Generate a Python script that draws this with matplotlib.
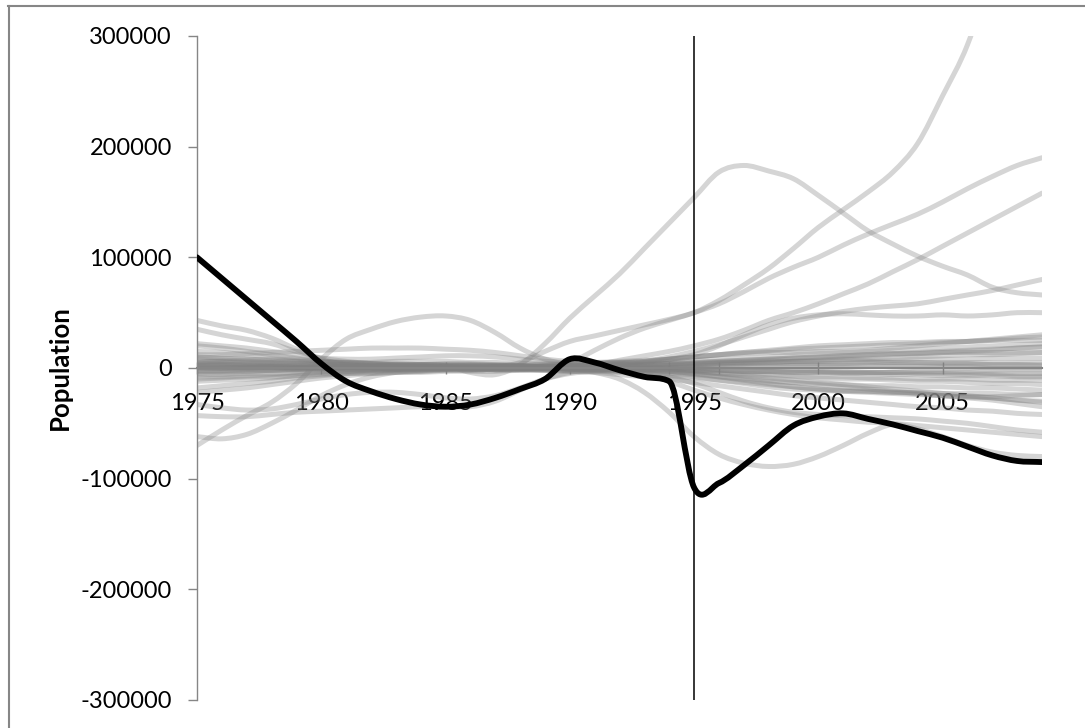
import matplotlib
matplotlib.use("Agg")
import matplotlib.pyplot as plt
from matplotlib.path import Path
from matplotlib.patches import PathPatch
from matplotlib.lines import Line2D

plt.rcParams["font.family"] = ["Lato", "DejaVu Sans"]
plt.rcParams["axes.unicode_minus"] = False

# ---- data (values in thousands of people) ----
years = list(range(1975, 2010))
tick_years = [1975, 1980, 1985, 1990, 1995, 2000, 2005]
extra_tick_years = [1994, 1996]
y_ticks = [-300000, -200000, -100000, 0, 100000, 200000, 300000]
y_tick_labels = ["-300000", "-200000", "-100000", "0", "100000", "200000", "300000"]
marker_year = 1995

# highlighted region
black_k = [100, 81, 62, 43, 24, 4, -12, -21, -28, -33, -35, -33, -27, -19, -10,
           8, 5, -2, -8, -12, -108, -104, -88, -70, -52, -44, -41, -46, -51, -57,
           -63, -71, -79, -84, -85]

# all other regions (grey)
l1 = [5, 6, 6, 5, 4, 3, 3, 2, 2, 1, 1, 0, 1, 5, 15, 24, 29, 34, 39, 44,
      50, 61, 75, 90, 108, 127, 143, 159, 177, 203, 246, 292, 360, 430, 500]
l2 = [10, 9, 8, 8, 7, 6, 5, 4, 4, 3, 2, -4, -6, 3, 22, 45, 65, 85, 108, 131,
      154, 177, 183, 178, 171, 156, 140, 124, 112, 101, 92, 84, 73, 68, 66]
l3 = [3, 3, 2, 2, 1, 1, 0, 0, -1, -1, 0, 0, 1, 1, 2, 5, 16, 27, 36, 43,
      50, 58, 69, 81, 91, 100, 111, 121, 130, 139, 150, 162, 173, 183, 190]
l4 = [-2, -2, -1, -1, 0, 0, 1, 1, 1, 0, 0, -1, -1, 0, 0, 1, 3, 7, 11, 15,
      20, 26, 34, 43, 50, 58, 67, 76, 87, 98, 110, 122, 134, 146, 158]
l5 = [4, 4, 3, 3, 2, 2, 2, 1, 1, 1, 0, 0, 0, 1, 1, 2, 3, 4, 6, 10,
      15, 21, 28, 35, 42, 47, 51, 54, 56, 58, 62, 66, 70, 75, 80]
l6 = [-3, -3, -2, -2, -1, -1, 0, 0, 1, 1, 1, 0, 0, 0, 1, 1, 2, 3, 5, 8,
      12, 20, 30, 39, 45, 48, 49, 48, 47, 47, 48, 47, 48, 50, 50]
d1 = [2, 2, 1, 1, 0, 0, -1, -1, 0, 0, 1, 1, 0, 0, -1, -1, -4, -10, -22, -40,
      -62, -78, -86, -89, -87, -80, -70, -59, -51, -55, -62, -70, -76, -79, -80]
d2 = [0, 0, 1, 1, 0, 0, -1, -1, -1, 0, 0, 1, 1, 0, 0, -1, -1, -2, -5, -12,
      -20, -27, -33, -38, -42, -45, -47, -49, -50, -52, -54, -56, -58, -60, -62]
d3 = [1, 1, 0, 0, -1, -1, 0, 0, 1, 1, 0, 0, -1, -1, 0, 0, -1, -2, -4, -8,
      -14, -22, -30, -36, -40, -42, -43, -44, -45, -46, -48, -50, -53, -56, -58]
h1 = [-70, -56, -43, -31, -14, 8, 26, 35, 42, 46, 47, 43, 32, 18, 8, 3, 2, 1, 1, 0,
      0, -1, -1, -2, -2, -3, -3, -4, -4, -5, -5, -6, -6, -7, -7]
a1 = [-62, -64, -60, -50, -38, -25, -15, -8, -4, -2, -1, 0, 0, 1, 1, 2, 2, 3, 3, 4,
      5, 6, 7, 8, 9, 10, 11, 12, 13, 14, 15, 16, 17, 18, 19]
b1 = [-43, -44, -44, -42, -40, -39, -38, -37, -36, -35, -35, -35, -30, -20, -10, -4,
      -2, -1, -1, -2, -3, -5, -7, -9, -11, -13, -15, -17, -19, -21, -23, -25, -27, -29, -31]
b2 = [-33, -36, -38, -37, -33, -28, -24, -22, -22, -24, -27, -28, -25, -18, -10, -5,
      -3, -2, -2, -3, -5, -8, -11, -14, -17, -19, -21, -22, -23, -24, -25, -26, -26, -25, -24]
c1 = [43, 38, 34, 27, 17, 8, 3, 1, 0, 0, 1, 1, 2, 2, 3, 3, 4, 5, 6, 8,
      10, 12, 13, 14, 14, 15, 15, 16, 18, 20, 22, 24, 26, 28, 30]
c2 = [35, 30, 26, 22, 15, 9, 6, 4, 3, 3, 4, 4, 3, 2, 1, 0, 0, -1, -2, -3,
      -5, -7, -9, -11, -13, -15, -17, -19, -21, -23, -25, -27, -29, -32, -35]
c3 = [22, 20, 18, 15, 12, 9, 8, 8, 9, 10, 11, 11, 10, 8, 6, 5, 5, 6, 7, 8,
      10, 12, 14, 16, 18, 20, 21, 22, 23, 23, 24, 24, 25, 25, 25]
c4 = [12, 12, 13, 14, 15, 16, 17, 18, 18, 18, 17, 16, 14, 11, 8, 6, 5, 4, 4, 4,
      5, 6, 7, 8, 9, 10, 11, 12, 13, 13, 14, 14, 14, 14, 14]
n1 = [8, 7, 7, 6, 6, 5, 5, 5, 6, 6, 6, 5, 5, 4, 4, 4, 4, 5, 5, 6,
      7, 8, 9, 10, 12, 13, 14, 15, 16, 17, 18, 19, 20, 21, 22]
n2 = [-5, -4, -3, -2, -1, 0, 1, 2, 2, 3, 3, 3, 2, 2, 1, 1, 1, 2, 2, 3,
      4, 5, 6, 7, 8, 9, 10, 11, 12, 13, 14, 15, 16, 18, 19]
n3 = [6, 6, 5, 5, 4, 4, 3, 3, 3, 2, 2, 2, 2, 2, 2, 2, 3, 3, 3, 4,
      4, 5, 5, 6, 6, 6, 7, 7, 7, 8, 8, 8, 9, 9, 9]
n4 = [-8, -8, -7, -6, -5, -4, -3, -2, -1, 0, 0, 0, 1, 1, 1, 2, 2, 2, 3, 3,
      3, 4, 4, 4, 4, 4, 4, 5, 5, 5, 5, 5, 5, 5, 5]
n5 = [15, 14, 12, 10, 8, 6, 5, 4, 3, 3, 2, 2, 2, 1, 1, 1, 1, 1, 1, 2,
      2, 3, 4, 5, 6, 6, 6, 6, 5, 5, 4, 4, 3, 3, 2]
n6 = [-12, -11, -10, -9, -7, -5, -4, -3, -2, -2, -1, -1, -1, 0, 0, 0, 0, 0, 0, 0,
      1, 1, 2, 2, 2, 2, 2, 2, 1, 1, 1, 1, 0, 0, 0]
n7 = [3, 3, 3, 2, 2, 2, 1, 1, 1, 1, 0, 0, 0, -1, -1, -1, -1, -1, -1, -1,
      -2, -2, -3, -3, -4, -4, -4, -4, -4, -3, -3, -3, -2, -2, -2]
n8 = [-18, -16, -14, -12, -9, -7, -5, -4, -3, -3, -2, -2, -1, -1, -1, 0, 0, 0, -1, -1,
      -2, -2, -3, -3, -3, -3, -4, -4, -4, -4, -4, -4, -5, -5, -5]
n9 = [10, 9, 8, 7, 6, 5, 4, 4, 3, 3, 3, 2, 2, 2, 1, 1, 0, 0, -1, -2,
      -3, -4, -5, -6, -7, -8, -8, -9, -9, -10, -10, -10, -11, -11, -11]
n10 = [-3, -3, -3, -2, -2, -2, -2, -1, -1, -1, -1, -1, -1, -1, -1, -2, -2, -3, -4, -5,
       -6, -8, -10, -12, -13, -14, -15, -16, -16, -17, -17, -18, -18, -19, -20]
n11 = [5, 5, 4, 4, 3, 3, 3, 2, 2, 2, 1, 1, 1, 0, 0, -1, -2, -3, -4, -6,
       -8, -11, -14, -17, -19, -20, -21, -21, -22, -22, -23, -23, -23, -24, -24]
n12 = [0, 0, 0, 0, 0, 1, 1, 1, 0, 0, 0, 0, -1, -1, -2, -3, -4, -6, -8, -10,
       -13, -16, -19, -22, -25, -27, -29, -31, -33, -35, -36, -38, -39, -41, -42]
n13 = [-22, -20, -18, -15, -12, -9, -7, -5, -4, -3, -2, -2, -1, -1, 0, 0, 1, 1, 2, 2,
       3, 4, 5, 5, 6, 7, 8, 8, 9, 10, 11, 12, 12, 13, 14]
n14 = [-6, -6, -5, -5, -4, -3, -3, -2, -2, -1, -1, -1, 0, 0, 0, 0, -1, -1, -2, -3,
       -4, -5, -6, -7, -8, -9, -10, -10, -11, -12, -12, -13, -14, -14, -15]
n15 = [0, 0, 0, 1, 1, 1, 1, 2, 2, 2, 2, 3, 3, 3, 3, 3, 4, 5, 6, 8,
       10, 12, 14, 15, 17, 18, 19, 20, 21, 22, 23, 24, 25, 27, 28]
n16 = [2, 2, 2, 1, 1, 0, 0, 0, -1, -1, -1, -1, -2, -2, -2, -3, -3, -4, -5, -7,
       -9, -11, -13, -15, -17, -19, -20, -21, -22, -23, -25, -26, -27, -29, -30]
n17 = [-10, -9, -8, -8, -7, -6, -5, -5, -4, -4, -3, -3, -3, -2, -2, -2, -1, -1, 0, 0,
       0, 1, 1, 1, 2, 2, 2, 2, 3, 3, 3, 3, 3, 3, 3]
n18 = [20, 18, 15, 12, 9, 6, 4, 3, 2, 1, 1, 0, 0, 0, 0, 0, 0, 0, -1, -1,
       -2, -2, -3, -3, -4, -4, -5, -5, -6, -6, -7, -7, -7, -8, -8]

grey_series = [l1, l2, l3, l4, l5, l6, d1, d2, d3, h1, a1, b1, b2, c1, c2, c3, c4,
               n1, n2, n3, n4, n5, n6, n7, n8, n9, n10, n11, n12, n13, n14, n15,
               n16, n17, n18]


def smooth_path(xs, ys):
    # smoothed line as Bezier segments; tangents limited where a flat stretch
    # meets a sudden jump, so the curve does not bulge the wrong way there
    n = len(xs)
    d = [(ys[i + 1] - ys[i]) for i in range(n - 1)]
    m = []
    for i in range(n):
        if i == 0:
            t = d[0]
        elif i == n - 1:
            t = d[-1]
        else:
            t = (d[i - 1] + d[i]) / 2
            if d[i - 1] * d[i] > 0:
                lim = 3 * min(abs(d[i - 1]), abs(d[i]))
                t = max(-lim, min(lim, t))
        m.append(t)
    verts = [(xs[0], ys[0])]
    codes = [Path.MOVETO]
    for i in range(n - 1):
        h = xs[i + 1] - xs[i]
        verts += [(xs[i] + h / 3, ys[i] + m[i] / 3),
                  (xs[i + 1] - h / 3, ys[i + 1] - m[i + 1] / 3),
                  (xs[i + 1], ys[i + 1])]
        codes += [Path.CURVE4] * 3
    return Path(verts, codes)


def add_line(ax, values_k, color, lw, z):
    ys = [v * 1000 for v in values_k]
    patch = PathPatch(smooth_path(years, ys), facecolor="none", edgecolor=color,
                      lw=lw, capstyle="round", joinstyle="round", zorder=z)
    ax.add_patch(patch)


fig = plt.figure(figsize=(10.85, 7.28), dpi=100)
ax = fig.add_axes([197 / 1085, 28 / 728, 845 / 1085, 664 / 728])
ax.set_axisbelow(True)

for s in grey_series:
    add_line(ax, s, (0.5, 0.5, 0.5, 0.33), 3.6, 2)
add_line(ax, black_k, "black", 4.2, 4)

ax.axvline(marker_year, color="black", lw=1.1, zorder=5)

ax.set_xlim(years[0], years[-1])
ax.set_ylim(y_ticks[0], y_ticks[-1])

axis_grey = "#868686"
for side in ["top", "right"]:
    ax.spines[side].set_visible(False)
ax.spines["left"].set_color(axis_grey)
ax.spines["left"].set_linewidth(1.0)
ax.spines["bottom"].set_position(("data", 0))
ax.spines["bottom"].set_color(axis_grey)
ax.spines["bottom"].set_linewidth(1.5)
ax.spines["bottom"].set_zorder(3)

ax.set_xticks(tick_years)
ax.set_xticklabels([str(y) for y in tick_years])
ax.set_xticks(extra_tick_years, minor=True)
ax.set_yticks(y_ticks)
ax.set_yticklabels(y_tick_labels)

ax.tick_params(axis="x", which="both", direction="inout", length=8, width=1,
               color=axis_grey, pad=14, labelsize=17)
ax.tick_params(axis="y", direction="out", length=6.5, width=1, color=axis_grey,
               pad=11.5, labelsize=17)

fig.text(60 / 1085, 1 - 368 / 728, "Population", rotation=90, ha="center",
         va="center", fontsize=18.5, fontweight="bold")

# chart border (top and left edges visible in the crop)
fig.add_artist(Line2D([8 / 1085, 1], [1 - 5.5 / 728, 1 - 5.5 / 728],
                      transform=fig.transFigure, color=axis_grey, lw=1.5))
fig.add_artist(Line2D([8.5 / 1085, 8.5 / 1085], [0, 1 - 5.5 / 728],
                      transform=fig.transFigure, color=axis_grey, lw=1.5))

fig.savefig("out.png", dpi=100)
